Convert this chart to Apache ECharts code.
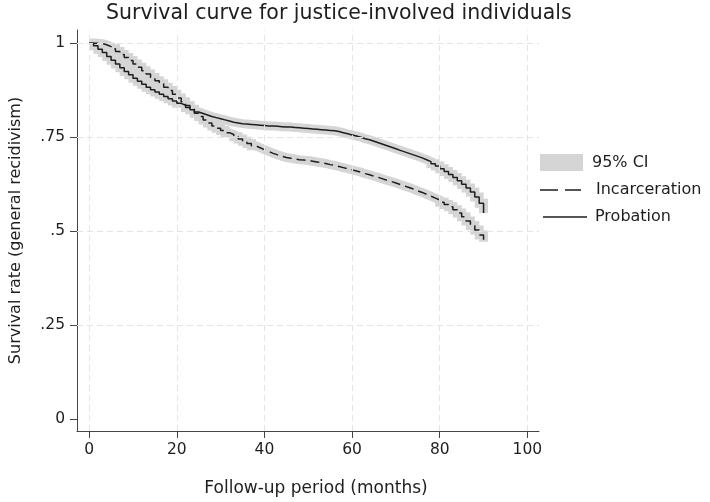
<!DOCTYPE html>
<html><head><meta charset="utf-8">
<script src="https://cdn.jsdelivr.net/npm/echarts@6/dist/echarts.min.js"></script>
<style>html,body{margin:0;padding:0;background:#fff}#c{width:710px;height:502px}</style>
</head><body><div id="c"></div>
<script>
// Follow-up months (x)
const months = Array.from({length: 91}, (_, i) => i);
// Kaplan-Meier survival estimates
const probation = [
 1.000,0.993,0.984,0.975,0.965,0.955,0.945,0.935,0.925,0.916,
 0.907,0.899,0.891,0.883,0.876,0.870,0.864,0.858,0.852,0.846,
 0.840,0.835,0.829,0.823,0.817,0.813,0.809,0.805,0.802,0.799,
 0.796,0.793,0.790,0.788,0.786,0.785,0.784,0.783,0.782,0.781,
 0.780,0.780,0.779,0.778,0.777,0.777,0.776,0.775,0.774,0.773,
 0.772,0.771,0.770,0.769,0.768,0.767,0.765,0.762,0.759,0.756,
 0.753,0.750,0.746,0.743,0.739,0.735,0.731,0.727,0.723,0.719,
 0.715,0.711,0.707,0.703,0.699,0.695,0.690,0.685,0.679,0.673,
 0.666,0.659,0.651,0.643,0.634,0.625,0.615,0.604,0.591,0.574,
 0.548
];
const incarceration = [
 1.000,1.000,0.999,0.996,0.991,0.985,0.978,0.970,0.962,0.954,
 0.945,0.936,0.927,0.918,0.909,0.900,0.892,0.883,0.874,0.864,
 0.854,0.844,0.834,0.824,0.814,0.805,0.796,0.788,0.780,0.774,
 0.768,0.762,0.757,0.751,0.745,0.739,0.733,0.727,0.722,0.717,
 0.712,0.707,0.703,0.699,0.696,0.694,0.692,0.690,0.689,0.688,
 0.686,0.684,0.682,0.680,0.677,0.675,0.672,0.669,0.666,0.663,
 0.660,0.657,0.653,0.650,0.646,0.643,0.639,0.635,0.632,0.628,
 0.624,0.620,0.616,0.612,0.607,0.603,0.598,0.593,0.588,0.583,
 0.577,0.571,0.565,0.557,0.548,0.538,0.527,0.515,0.503,0.490,
 0.472
];
const xTicks = [0, 20, 40, 60, 80, 100];
const yTicks = [0, 0.25, 0.5, 0.75, 1];
const yTickLabels = ['0', '.25', '.5', '.75', '1'];
const gridY = [0.25, 0.5, 0.75, 1];
const legendLabels = ['95% CI', 'Incarceration', 'Probation'];
const titleText = 'Survival curve for justice-involved individuals';
const xTitle = 'Follow-up period (months)';
const yTitle = 'Survival rate (general recidivism)';

const FONT = 'DejaVu Sans';
const INK = '#1e1e1e';
const AXIS = '#454545';
const CI = '#d5d5d5';
const pairs = arr => months.map((m, i) => [m, arr[i]]);

const chart = echarts.init(document.getElementById('c'), null, {renderer: 'canvas'});
chart.setOption({
  animation: false,
  backgroundColor: '#fff',
  title: {
    text: titleText, left: 106, top: 3, padding: 0,
    textStyle: {fontFamily: FONT, fontSize: 20.5, fontWeight: 'normal', color: INK}
  },
  grid: {left: 72.7, right: 171, top: 30, bottom: 69, containLabel: false},
  xAxis: {
    type: 'value', min: -2.78, max: 102.65,
    name: xTitle, nameLocation: 'middle', nameGap: 49,
    nameTextStyle: {fontFamily: FONT, fontSize: 17, color: INK, padding: [0, 0, 0, 16]},
    axisLine: {show: true, onZero: false, lineStyle: {color: AXIS, width: 1}},
    axisTick: {show: true, customValues: xTicks, length: 7, lineStyle: {color: AXIS}},
    axisLabel: {customValues: xTicks, margin: 11, fontFamily: FONT, fontSize: 15.5, color: INK},
    splitLine: {show: false}
  },
  yAxis: {
    type: 'value', min: -0.0318, max: 1.0352,
    name: yTitle, nameLocation: 'middle', nameGap: 53,
    nameTextStyle: {fontFamily: FONT, fontSize: 16, color: INK},
    axisLine: {show: true, onZero: false, lineStyle: {color: AXIS, width: 1}},
    axisTick: {show: true, customValues: yTicks, length: 7, lineStyle: {color: AXIS}},
    axisLabel: {
      customValues: yTicks, margin: 12, fontFamily: FONT, fontSize: 15.5, color: INK,
      formatter: v => { const i = yTicks.findIndex(t => Math.abs(t - v) < 1e-6); return i >= 0 ? yTickLabels[i] : ''; }
    },
    splitLine: {show: false}
  },
  series: [
    {
      type: 'line', data: [], silent: true, z: 0,
      markLine: {
        silent: true, symbol: ['none', 'none'], label: {show: false}, animation: false,
        lineStyle: {color: '#e4e4e4', type: [6, 4], width: 1},
        data: xTicks.map(v => ({xAxis: v})).concat(gridY.map(v => ({yAxis: v})))
      }
    },
    {name: legendLabels[0], type: 'line', step: 'end', data: pairs(incarceration), symbol: 'none', silent: true, z: 1,
     lineStyle: {color: CI, width: 9, join: 'miter'}},
    {name: legendLabels[0], type: 'line', step: 'end', data: pairs(probation), symbol: 'none', silent: true, z: 1,
     lineStyle: {color: CI, width: 9, join: 'miter'}},
    {name: legendLabels[1], type: 'line', step: 'end', data: pairs(incarceration), symbol: 'none', z: 3,
     lineStyle: {color: INK, width: 1.5, type: [9, 5]}},
    {name: legendLabels[2], type: 'line', step: 'end', data: pairs(probation), symbol: 'none', z: 3,
     lineStyle: {color: INK, width: 1.5}}
  ],
  graphic: [
    {type: 'rect', shape: {x: 540, y: 154, width: 43, height: 17}, style: {fill: CI}},
    {type: 'text', x: 592, y: 163, style: {text: legendLabels[0], fontFamily: FONT, fontSize: 16, fill: INK, verticalAlign: 'middle'}},
    {type: 'line', shape: {x1: 540, y1: 190, x2: 581, y2: 190}, style: {stroke: INK, lineWidth: 1.5, lineDash: [18, 7]}},
    {type: 'text', x: 596, y: 190, style: {text: legendLabels[1], fontFamily: FONT, fontSize: 16, fill: INK, verticalAlign: 'middle'}},
    {type: 'line', shape: {x1: 543, y1: 217, x2: 587, y2: 217}, style: {stroke: INK, lineWidth: 1.5}},
    {type: 'text', x: 595, y: 217, style: {text: legendLabels[2], fontFamily: FONT, fontSize: 16, fill: INK, verticalAlign: 'middle'}}
  ]
});
</script></body></html>
